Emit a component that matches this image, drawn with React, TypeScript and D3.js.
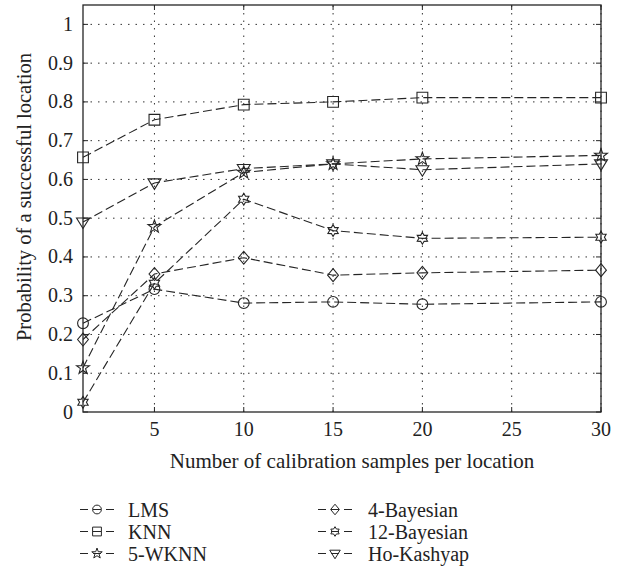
import React from "react";
import * as d3 from "d3";

const xValues = [1, 5, 10, 15, 20, 30];
const lms = [0.229, 0.317, 0.281, 0.284, 0.278, 0.284];
const knn = [0.657, 0.754, 0.793, 0.8, 0.811, 0.811];
const wknn5 = [0.114, 0.478, 0.618, 0.64, 0.653, 0.662];
const bayes4 = [0.187, 0.356, 0.398, 0.353, 0.359, 0.366];
const bayes12 = [0.025, 0.332, 0.549, 0.468, 0.448, 0.451];
const hoKashyap = [0.49, 0.591, 0.628, 0.64, 0.625, 0.64];

const seriesNames = ["LMS", "KNN", "5-WKNN", "4-Bayesian", "12-Bayesian", "Ho-Kashyap"];
const seriesValues = [lms, knn, wknn5, bayes4, bayes12, hoKashyap];
const seriesMarkers = ["circle", "square", "pentagram", "diamond", "hexagram", "triangleDown"];

const xTicks = [5, 10, 15, 20, 25, 30];
const yTicks = [0, 0.1, 0.2, 0.3, 0.4, 0.5, 0.6, 0.7, 0.8, 0.9, 1];
const yTickLabels = ["0", "0.1", "0.2", "0.3", "0.4", "0.5", "0.6", "0.7", "0.8", "0.9", "1"];

const xTitle = "Number of calibration samples per location";
const yTitle = "Probability of a successful location";

const W = 627;
const H = 569;
const left = 83;
const right = 601;
const top = 5;
const bottom = 412;

const FONT = "'Liberation Serif', 'Times New Roman', serif";
const INK = "#252525";

function starPath(n: number, rOut: number, rIn: number, rot: number) {
  const pts: [number, number][] = [];
  for (let i = 0; i < 2 * n; i++) {
    const r = i % 2 === 0 ? rOut : rIn;
    const a = rot + (i * Math.PI) / n;
    pts.push([r * Math.cos(a), r * Math.sin(a)]);
  }
  return "M" + pts.map((p) => p[0].toFixed(2) + "," + p[1].toFixed(2)).join("L") + "Z";
}

function markerPath(kind: string, s: number) {
  switch (kind) {
    case "circle":
      return `M${s},0A${s},${s} 0 1,1 ${-s},0A${s},${s} 0 1,1 ${s},0Z`;
    case "square":
      return `M${-s},${-s}H${s}V${s}H${-s}Z`;
    case "diamond":
      return `M0,${-s * 1.2}L${s},0L0,${s * 1.2}L${-s},0Z`;
    case "pentagram":
      return starPath(5, s * 1.25, s * 0.5, -Math.PI / 2);
    case "hexagram":
      return starPath(6, s * 1.1, s * 0.64, -Math.PI / 2);
    case "triangleDown":
      return `M${-s * 1.2},${-s * 0.75}L${s * 1.2},${-s * 0.75}L0,${s * 1.2}Z`;
  }
  return "";
}

export default function App() {
  const x = d3.scaleLinear().domain([1, 30]).range([left, right]);
  const y = d3.scaleLinear().domain([0, 1.05]).range([bottom, top]);
  const line = d3
    .line<number>()
    .x((_, i) => x(xValues[i]))
    .y((d) => y(d));

  const legendCols = [
    { sym: 97, text: 128 },
    { sym: 335, text: 368 },
  ];
  const legendRows = [517, 539, 561];

  return (
    <svg
      width={W}
      height={H}
      style={{ position: "absolute", left: 0, top: 0, display: "block", background: "#fff" }}
      fontFamily={FONT}
    >
      <rect x={0} y={0} width={W} height={H} fill="#fff" />
      {/* grid */}
      <g stroke="#333" strokeWidth={1} strokeDasharray="1.5,6">
        {xTicks.map((t) => (
          <line key={"gx" + t} x1={x(t)} x2={x(t)} y1={bottom} y2={top} />
        ))}
        {yTicks.slice(1).map((t) => (
          <line key={"gy" + t} x1={left} x2={right} y1={y(t)} y2={y(t)} />
        ))}
      </g>
      {/* inward ticks */}
      <g stroke={INK} strokeWidth={1}>
        {xTicks.map((t) => (
          <g key={"tx" + t}>
            <line x1={x(t)} x2={x(t)} y1={bottom} y2={bottom - 5} />
            <line x1={x(t)} x2={x(t)} y1={top} y2={top + 5} />
          </g>
        ))}
        {yTicks.map((t) => (
          <g key={"ty" + t}>
            <line x1={left} x2={left + 5} y1={y(t)} y2={y(t)} />
            <line x1={right} x2={right - 5} y1={y(t)} y2={y(t)} />
          </g>
        ))}
      </g>
      {/* series */}
      {seriesValues.map((vals, si) => (
        <g key={"s" + si}>
          <path d={line(vals) || ""} fill="none" stroke={INK} strokeWidth={1.1} strokeDasharray="9,4" />
          {vals.map((v, i) => (
            <path
              key={i}
              transform={`translate(${x(xValues[i])},${y(v)})`}
              d={markerPath(seriesMarkers[si], 5.4)}
              fill="none"
              stroke={INK}
              strokeWidth={1.1}
            />
          ))}
        </g>
      ))}
      {/* frame */}
      <rect x={left} y={top} width={right - left} height={bottom - top} fill="none" stroke={INK} strokeWidth={1.3} />
      {/* tick labels */}
      <g fontSize={20} fill="#222">
        {xTicks.map((t) => (
          <text key={"lx" + t} x={x(t)} y={436} textAnchor="middle">
            {t}
          </text>
        ))}
        {yTicks.map((t, i) => (
          <text key={"ly" + t} x={73} y={y(t) + 6.5} textAnchor="end">
            {yTickLabels[i]}
          </text>
        ))}
      </g>
      {/* titles */}
      <text x={352} y={468} textAnchor="middle" fontSize={21} fill="#222">
        {xTitle}
      </text>
      <text
        transform={`translate(31,197) rotate(-90)`}
        textAnchor="middle"
        fontSize={20.5}
        fill="#222"
      >
        {yTitle}
      </text>
      {/* legend */}
      {seriesNames.map((name, i) => {
        const col = legendCols[Math.floor(i / 3)];
        const by = legendRows[i % 3];
        const cy = by - 7.5;
        return (
          <g key={"lg" + i}>
            <g stroke={INK} strokeWidth={1} fill="none">
              <line x1={col.sym - 17} x2={col.sym - 9} y1={cy} y2={cy} />
              <line x1={col.sym - 4} x2={col.sym + 4} y1={cy} y2={cy} />
              <line x1={col.sym + 9} x2={col.sym + 17} y1={cy} y2={cy} />
              <path transform={`translate(${col.sym},${cy})`} d={markerPath(seriesMarkers[i], 4.4)} />
            </g>
            <text x={col.text} y={by} fontSize={20} fill="#222">
              {name}
            </text>
          </g>
        );
      })}
    </svg>
  );
}
